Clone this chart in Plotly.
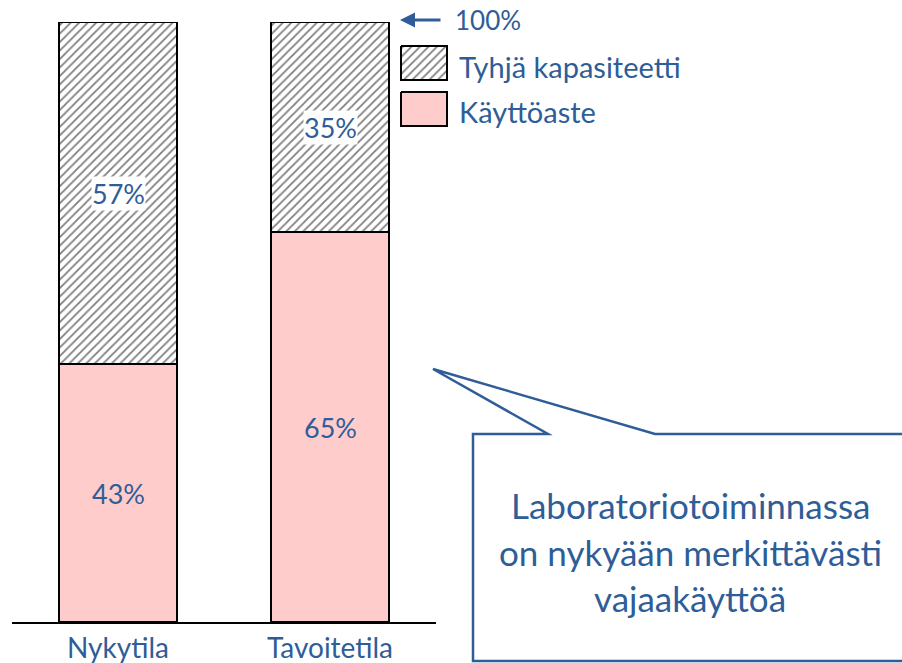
import plotly.graph_objects as go

# Chart data
categories = ["Nykytila", "Tavoitetila"]
kayttoaste = [43, 65]          # utilisation, %
tyhja_kapasiteetti = [57, 35]  # empty capacity, %
legend_labels = ["Tyhjä kapasiteetti", "Käyttöaste"]
top_label = "100%"
callout_lines = ["Laboratoriotoiminnassa", "on nykyään merkittävästi", "vajaakäyttöä"]

BLUE = "#2E5D98"
PINK = "#FFCCCC"
FONT = "Lato"
W, H = 902, 663

hatch = dict(shape="/", fgcolor="black", bgcolor="white", size=6, solidity=0.3)

fig = go.Figure()

fig.add_trace(go.Bar(
    x=categories, y=kayttoaste, name=legend_labels[1],
    marker=dict(color=PINK, line=dict(color="black", width=2)),
    width=0.557, showlegend=False, hoverinfo="skip",
))
fig.add_trace(go.Bar(
    x=categories, y=tyhja_kapasiteetti, name=legend_labels[0],
    marker=dict(color="white", pattern=hatch, line=dict(color="black", width=2)),
    width=0.557, showlegend=False, hoverinfo="skip",
))

# Legend swatches drawn in a pixel-space overlay
def box(x0, y0, x1, y1):
    return [x0, x1, x1, x0, x0], [y0, y0, y1, y1, y0]

bx, by = box(401, 46, 447, 80)
fig.add_trace(go.Scatter(
    x=bx, y=by, xaxis="x2", yaxis="y2", mode="lines", fill="toself",
    fillcolor="white", fillpattern=hatch, line=dict(color="black", width=2),
    showlegend=False, hoverinfo="skip",
))
bx, by = box(401, 92, 447, 126)
fig.add_trace(go.Scatter(
    x=bx, y=by, xaxis="x2", yaxis="y2", mode="lines", fill="toself",
    fillcolor=PINK, line=dict(color="black", width=2),
    showlegend=False, hoverinfo="skip",
))

annotations = []
# Segment value labels
for i, cat in enumerate(categories):
    low = kayttoaste[i]
    annotations.append(dict(
        x=cat, y=low / 2, xref="x", yref="y", text=f"{low}%", showarrow=False,
        font=dict(family=FONT, size=27, color=BLUE),
    ))
    high = tyhja_kapasiteetti[i]
    annotations.append(dict(
        x=cat, y=low + high / 2, xref="x", yref="y", text=f"{high}%", showarrow=False,
        font=dict(family=FONT, size=27, color=BLUE), bgcolor="white", borderpad=0,
    ))

# Legend texts
annotations.append(dict(x=457, y=66, xref="x2", yref="y2", text=legend_labels[0],
                        xanchor="left", showarrow=False,
                        font=dict(family=FONT, size=29, color=BLUE)))
annotations.append(dict(x=457, y=111, xref="x2", yref="y2", text=legend_labels[1],
                        xanchor="left", showarrow=False,
                        font=dict(family=FONT, size=29, color=BLUE)))

# 100% marker arrow
annotations.append(dict(x=400, y=20, ax=442, ay=20, xref="x2", yref="y2",
                        axref="x2", ayref="y2", text="", showarrow=True,
                        arrowhead=2, arrowsize=1, arrowwidth=3, arrowcolor=BLUE))
annotations.append(dict(x=453, y=20, xref="x2", yref="y2", text=top_label,
                        xanchor="left", showarrow=False,
                        font=dict(family=FONT, size=26, color=BLUE)))

# Callout text
for yy, line in zip([505, 552, 598], callout_lines):
    annotations.append(dict(x=690, y=yy, xref="x2", yref="y2", text=line,
                            showarrow=False,
                            font=dict(family=FONT, size=35, color=BLUE)))

shapes = [dict(
    type="path", xref="x2", yref="y2",
    path="M 473 434 L 548 434 L 433 369 L 655 434 L 910 434 L 910 661 L 473 661 Z",
    fillcolor="white", line=dict(color=BLUE, width=2.5), layer="below",
)]

fig.update_layout(
    width=W, height=H,
    margin=dict(l=0, r=0, t=0, b=0),
    paper_bgcolor="white", plot_bgcolor="rgba(0,0,0,0)",
    barmode="stack", bargap=0,
    showlegend=False,
    xaxis=dict(domain=[12 / W, 436 / W], range=[-0.5, 1.5], showline=True,
               linecolor="black", linewidth=2, showgrid=False, zeroline=False,
               ticks="", tickfont=dict(family=FONT, size=28, color=BLUE)),
    yaxis=dict(domain=[41 / H, 641 / H], range=[0, 100], visible=False,
               showgrid=False, zeroline=False),
    xaxis2=dict(domain=[0, 1], range=[0, W], anchor="y2", visible=False,
                showgrid=False, zeroline=False),
    yaxis2=dict(domain=[0, 1], range=[H, 0], anchor="x2", visible=False,
                showgrid=False, zeroline=False),
    annotations=annotations,
    shapes=shapes,
)

fig.write_html("out.html")
